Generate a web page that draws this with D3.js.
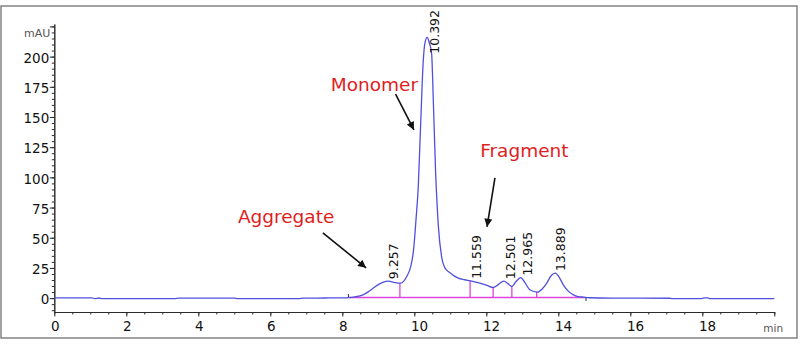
<!DOCTYPE html>
<html><head><meta charset="utf-8">
<script src="https://cdn.jsdelivr.net/npm/d3@7/dist/d3.min.js"></script>
<style>body{margin:0;background:#fff}svg{display:block}</style>
</head><body><svg id="c" width="800" height="344"></svg>
<script>
// ---- data ----
const timeMin = [0,1.05,1.12,1.25,1.32,3.35,3.45,5.0,5.1,6.8,6.9,7.5,8.0,8.17,8.35,8.575,8.72,8.86,9.0,9.14,9.28,9.46,9.62,9.79,9.90,9.98,10.05,10.11,10.18,10.25,10.30,10.36,10.42,10.48,10.53,10.59,10.67,10.76,10.85,10.99,11.22,11.40,11.55,11.82,12.02,12.19,12.32,12.49,12.60,12.71,12.82,12.96,13.07,13.21,13.42,13.55,13.68,13.80,13.92,14.03,14.14,14.27,14.42,14.55,14.69,14.88,15.5,17.1,17.15,17.95,18.05,18.15,18.22,20.0];
const signalMAU = [0.2,0.2,-0.4,0.1,-0.4,-0.4,0,0,-0.4,-0.4,0,0.1,0.2,0.4,1.0,2.7,5.2,8.3,11.2,13.2,14,12.9,12.4,17.9,26,40,66,92,147,197,212,216,211,203,162,106,59,34,25,21,16.5,15.2,14.3,12.4,10.5,8.8,11,14,12,9.6,13.5,17,13,6.9,5,7.5,12.4,18.5,20.7,17,11,6,2.7,1.3,0.8,0.3,0,-0.1,-0.5,-0.5,0.2,0.2,-0.5,-0.5];

const peakLabels = ["9.257","10.392","11.559","12.501","12.965","13.889"];
const peakTimes = [9.257,10.392,11.559,12.501,12.965,13.889];
const peakHeights = [14,216,14.3,14,17,20.7];

const dropTimes = [9.60,11.55,12.19,12.71,13.40];
const dropHeights = [12.4,14.3,8.8,9.6,5.0];
const integrationTimes = [8.17,14.77];
const integrationLevel = [0.5,0.5];

const xTickValues = [0,2,4,6,8,10,12,14,16,18];
const xTickLabels = ["0","2","4","6","8","10","12","14","16","18"];
const yTickValues = [0,25,50,75,100,125,150,175,200];
const yTickLabels = ["0","25","50","75","100","125","150","175","200"];

const annoText = ["Aggregate","Monomer","Fragment"];
const annoTextPos = [[5.10,62.3],[7.68,171.6],[11.83,117]];
const annoFrom = [[7.46,54],[9.48,169],[12.24,99.6]];
const annoTo = [[8.66,25.1],[9.99,139.3],[12.02,59]];

// ---- drawing ----
const svg = d3.select("#c");
svg.append("rect").attr("width",800).attr("height",344).attr("fill","#fff");
svg.append("rect").attr("x",1).attr("y",6).attr("width",796).attr("height",332)
  .attr("fill","none").attr("stroke","#7a7a7a").attr("stroke-width",1.4);

const x = d3.scaleLinear().domain([0,20]).range([54.3,774.3]);
const y = d3.scaleLinear().domain([-11.5,227]).range([312,24]);
const font = "DejaVu Sans, sans-serif";
const axisColor = "#2a2a2a";

svg.append("defs").append("marker").attr("id","ah")
  .attr("viewBox","0 0 10 10").attr("refX",10).attr("refY",5)
  .attr("markerWidth",10).attr("markerHeight",8).attr("markerUnits","userSpaceOnUse")
  .attr("orient","auto")
  .append("path").attr("d","M0,0L10,5L0,10Z").attr("fill","#111");

// x axis: minor ticks
const gxMinor = svg.append("g").attr("transform",`translate(0,${y.range()[0]})`)
  .call(d3.axisBottom(x).tickValues(d3.range(0,20.001,0.5)).tickSize(2.5).tickSizeOuter(0).tickFormat(""));
const gx = svg.append("g").attr("transform",`translate(0,${y.range()[0]})`)
  .call(d3.axisBottom(x).tickValues(xTickValues.concat([20])).tickSize(4.5).tickSizeOuter(0)
    .tickFormat((d,i)=> i < xTickLabels.length ? xTickLabels[i] : ""));
[gxMinor,gx].forEach(g=>{
  g.selectAll("path,line").attr("stroke",axisColor).attr("stroke-width",1);
});
gx.selectAll("text").attr("font-family",font).attr("font-size",13.5).attr("fill","#111")
  .attr("text-anchor","start").attr("x",-3.8).attr("y",19).attr("dy",0);

// y axis
const gyMinor = svg.append("g").attr("transform",`translate(${x.range()[0]},0)`)
  .call(d3.axisLeft(y).tickValues(d3.range(-10,226,5)).tickSize(2.5).tickSizeOuter(0).tickFormat(""));
const gy = svg.append("g").attr("transform",`translate(${x.range()[0]},0)`)
  .call(d3.axisLeft(y).tickValues(yTickValues.concat([225])).tickSize(4.5).tickSizeOuter(0)
    .tickFormat((d,i)=> i < yTickLabels.length ? yTickLabels[i] : ""));
[gyMinor,gy].forEach(g=>{
  g.selectAll("path,line").attr("stroke",axisColor).attr("stroke-width",1);
});
gy.selectAll("text").attr("font-family",font).attr("font-size",13.5).attr("fill","#111")
  .attr("x",-5).attr("dy","0.42em");

svg.append("text").attr("x",x(0)-4).attr("y",y(225)+10.5).attr("text-anchor","end")
  .attr("font-family",font).attr("font-size",11).attr("fill","#555").text("mAU");
svg.append("text").attr("x",x(20)-11).attr("y",332).attr("text-anchor","start")
  .attr("font-family",font).attr("font-size",10.5).attr("fill","#555").text("min");

// integration baseline + drop lines
const magenta = "#dc46dc";
svg.append("line").attr("x1",x(integrationTimes[0])).attr("x2",x(integrationTimes[1]))
  .attr("y1",y(integrationLevel[0])).attr("y2",y(integrationLevel[1]))
  .attr("stroke",magenta).attr("stroke-width",1.3);
svg.selectAll(".drop").data(dropTimes).join("line").attr("class","drop")
  .attr("x1",d=>x(d)).attr("x2",d=>x(d))
  .attr("y1",y(integrationLevel[0])).attr("y2",(d,i)=>y(dropHeights[i]))
  .attr("stroke",magenta).attr("stroke-width",1.3);
// start / end markers
svg.append("line").attr("x1",x(integrationTimes[0])).attr("x2",x(integrationTimes[0]))
  .attr("y1",y(integrationLevel[0])).attr("y2",y(integrationLevel[0])-3.5).attr("stroke","#333").attr("stroke-width",1);
svg.append("line").attr("x1",x(integrationTimes[1])).attr("x2",x(integrationTimes[1]))
  .attr("y1",y(integrationLevel[1])).attr("y2",y(integrationLevel[1])+3.5).attr("stroke","#333").attr("stroke-width",1);

// signal
const line = d3.line().x((d,i)=>x(timeMin[i])).y((d,i)=>y(signalMAU[i])).curve(d3.curveMonotoneX);
svg.append("path").datum(signalMAU).attr("d",line).attr("fill","none")
  .attr("stroke","#5050dc").attr("stroke-width",1.3).attr("stroke-linejoin","round");

// peak labels
const fsPeak = 12.5;
svg.selectAll(".pl").data(peakLabels).join("text").attr("class","pl")
  .attr("font-family",font).attr("font-size",fsPeak).attr("fill","#111")
  .text(d=>d)
  .each(function(d,i){
    const len = this.getComputedTextLength();
    const px = x(peakTimes[i]) + 10.5;
    const py = Math.max(y(peakHeights[i]) - 2, 10 + len);
    d3.select(this).attr("transform",`translate(${px},${py}) rotate(-90)`);
  });

// annotations
const red = "#e11d1d";
svg.selectAll(".at").data(annoText).join("text").attr("class","at")
  .attr("x",(d,i)=>x(annoTextPos[i][0])).attr("y",(d,i)=>y(annoTextPos[i][1]))
  .attr("font-family",font).attr("font-size",18.5).attr("fill",red).text(d=>d);
svg.selectAll(".ar").data(annoFrom).join("line").attr("class","ar")
  .attr("x1",d=>x(d[0])).attr("y1",d=>y(d[1]))
  .attr("x2",(d,i)=>x(annoTo[i][0])).attr("y2",(d,i)=>y(annoTo[i][1]))
  .attr("stroke","#111").attr("stroke-width",1.6).attr("marker-end","url(#ah)");
</script>
</body></html>
